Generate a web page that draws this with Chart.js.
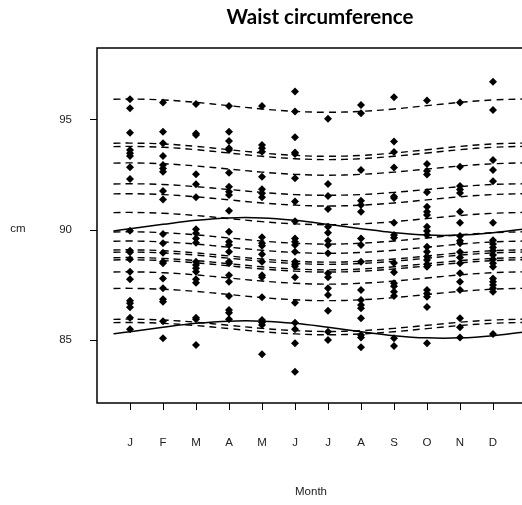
<!DOCTYPE html>
<html>
<head>
<meta charset="utf-8">
<script src="https://cdn.jsdelivr.net/npm/chart.js@4.4.0/dist/chart.umd.min.js"></script>
<style>
  html, body { margin: 0; padding: 0; background: #fff; overflow: hidden; }
  canvas { display: block; }
</style>
</head>
<body>
<canvas id="waistChart" width="540" height="505"></canvas>
<script>
const chartTitle = 'Waist circumference';
const xTitle = 'Month';
const yTitle = 'cm';
const monthLabels = ['J', 'F', 'M', 'A', 'M', 'J', 'J', 'A', 'S', 'O', 'N', 'D'];
const yTicks = [85, 90, 95];

// observed measurements, one list per month
const janVals = [95.94, 95.53, 94.42, 93.64, 93.49, 93.36, 92.85, 92.32, 89.97, 89.06, 88.99, 88.67, 88.10, 87.76, 86.79, 86.67, 86.49, 86.01, 85.49];
const febVals = [95.79, 94.47, 93.94, 93.36, 92.95, 92.80, 92.65, 91.77, 91.39, 89.82, 89.40, 88.97, 88.56, 88.49, 87.80, 87.35, 86.85, 86.74, 85.86, 85.08];
const marVals = [95.73, 94.39, 94.32, 92.53, 92.08, 91.49, 90.03, 89.85, 89.62, 89.42, 88.56, 88.41, 88.26, 88.10, 87.76, 87.60, 86.01, 85.94, 84.77];
const aprVals = [95.64, 94.47, 94.05, 93.71, 93.64, 92.60, 91.97, 91.74, 91.59, 90.88, 89.92, 89.47, 89.32, 89.01, 88.56, 88.49, 87.95, 87.65, 87.00, 86.36, 86.24, 85.94];
const mayVals = [95.64, 93.86, 93.71, 93.56, 92.42, 91.85, 91.67, 91.49, 89.67, 89.40, 89.29, 88.90, 88.56, 87.95, 87.85, 86.95, 85.91, 85.80, 85.68, 84.35];
const junVals = [96.29, 95.38, 94.21, 93.52, 93.45, 92.35, 91.29, 90.40, 89.62, 89.47, 89.32, 89.01, 88.56, 88.45, 88.35, 87.85, 86.70, 85.79, 85.49, 84.85, 83.56];
const julVals = [95.05, 92.09, 91.55, 90.96, 90.15, 89.88, 89.51, 89.32, 88.94, 88.03, 87.85, 87.35, 87.05, 86.33, 85.38, 85.00];
const augVals = [95.68, 95.30, 92.73, 91.33, 91.14, 90.83, 89.62, 89.32, 88.56, 87.27, 86.82, 86.59, 86.44, 85.99, 85.23, 85.12, 84.67];
const sepVals = [96.03, 94.02, 93.54, 92.84, 91.52, 91.45, 90.33, 89.77, 89.65, 88.50, 88.08, 87.58, 87.45, 87.20, 87.00, 85.08, 84.73];
const octVals = [95.88, 93.00, 92.68, 92.52, 91.72, 91.06, 90.83, 90.68, 90.15, 89.95, 89.77, 89.24, 89.01, 88.80, 88.64, 88.45, 88.33, 87.27, 87.12, 86.97, 86.50, 84.85];
const novVals = [95.79, 92.88, 92.00, 91.84, 91.68, 90.83, 90.33, 89.73, 89.51, 89.40, 89.00, 88.75, 88.49, 88.03, 87.65, 87.27, 85.99, 85.58, 85.12];
const decVals = [96.74, 95.45, 93.18, 92.73, 92.22, 90.33, 89.53, 89.36, 89.20, 89.06, 88.86, 88.67, 88.49, 88.33, 87.80, 87.65, 87.50, 87.35, 87.20, 85.27];
const monthValues = [janVals, febVals, marVals, aprVals, mayVals, junVals, julVals, augVals, sepVals, octVals, novVals, decVals];

// fitted curves, read at these month positions
const curveMonths = [0.5, 1, 2, 3, 4, 5, 6, 7, 8, 9, 10, 11, 12, 12.9];
const dashedCurves = [
  [95.94, 95.95, 95.91, 95.80, 95.65, 95.50, 95.39, 95.35, 95.39, 95.50, 95.65, 95.80, 95.91, 95.95],
  [93.94, 93.95, 93.91, 93.80, 93.65, 93.50, 93.39, 93.35, 93.39, 93.50, 93.65, 93.80, 93.91, 93.95],
  [93.79, 93.80, 93.76, 93.65, 93.50, 93.35, 93.24, 93.20, 93.24, 93.35, 93.50, 93.65, 93.76, 93.80],
  [93.04, 93.05, 93.01, 92.91, 92.77, 92.63, 92.53, 92.49, 92.53, 92.63, 92.77, 92.91, 93.01, 93.05],
  [92.09, 92.10, 92.07, 91.97, 91.84, 91.71, 91.61, 91.58, 91.61, 91.71, 91.84, 91.97, 92.07, 92.10],
  [91.64, 91.65, 91.61, 91.51, 91.37, 91.23, 91.13, 91.09, 91.13, 91.23, 91.37, 91.51, 91.61, 91.65],
  [90.79, 90.80, 90.76, 90.66, 90.52, 90.38, 90.28, 90.24, 90.28, 90.38, 90.52, 90.66, 90.76, 90.80],
  [89.91, 89.92, 89.88, 89.78, 89.64, 89.50, 89.40, 89.36, 89.40, 89.50, 89.64, 89.78, 89.88, 89.92],
  [89.49, 89.50, 89.46, 89.36, 89.22, 89.08, 88.98, 88.94, 88.98, 89.08, 89.22, 89.36, 89.46, 89.50],
  [89.09, 89.10, 89.06, 88.96, 88.82, 88.68, 88.58, 88.54, 88.58, 88.68, 88.82, 88.96, 89.06, 89.10],
  [88.99, 89.00, 88.96, 88.86, 88.72, 88.58, 88.48, 88.44, 88.48, 88.58, 88.72, 88.86, 88.96, 89.00],
  [88.74, 88.75, 88.71, 88.61, 88.47, 88.33, 88.23, 88.19, 88.23, 88.33, 88.47, 88.61, 88.71, 88.75],
  [88.64, 88.65, 88.61, 88.51, 88.37, 88.23, 88.13, 88.09, 88.13, 88.23, 88.37, 88.51, 88.61, 88.65],
  [88.09, 88.10, 88.06, 87.96, 87.82, 87.68, 87.58, 87.54, 87.58, 87.68, 87.82, 87.96, 88.06, 88.10],
  [87.34, 87.35, 87.31, 87.21, 87.07, 86.93, 86.83, 86.79, 86.83, 86.93, 87.07, 87.21, 87.31, 87.35],
  [85.94, 85.95, 85.91, 85.81, 85.67, 85.53, 85.43, 85.39, 85.43, 85.53, 85.67, 85.81, 85.91, 85.95],
  [85.79, 85.80, 85.76, 85.66, 85.52, 85.38, 85.28, 85.24, 85.28, 85.38, 85.52, 85.66, 85.76, 85.80]
];
const upperSolid = [89.96, 90.06, 90.26, 90.44, 90.55, 90.55, 90.44, 90.26, 90.06, 89.88, 89.77, 89.77, 89.88, 90.04];
const lowerSolid = [85.29, 85.38, 85.58, 85.76, 85.86, 85.86, 85.76, 85.58, 85.38, 85.20, 85.10, 85.10, 85.20, 85.36];

function curvePoints(values) {
    return values.map((v, i) => ({ x: curveMonths[i], y: v }));
}

const datasets = [];
dashedCurves.forEach(curve => {
    datasets.push({
        type: 'line',
        data: curvePoints(curve),
        borderColor: '#000',
        borderWidth: 1.4,
        borderDash: [7, 5],
        pointRadius: 0,
        tension: 0.4,
        fill: false
    });
});
[upperSolid, lowerSolid].forEach(curve => {
    datasets.push({
        type: 'line',
        data: curvePoints(curve),
        borderColor: '#000',
        borderWidth: 1.5,
        pointRadius: 0,
        tension: 0.4,
        fill: false
    });
});
datasets.push({
    type: 'scatter',
    data: monthValues.flatMap((vals, i) => vals.map(v => ({ x: i + 1, y: v }))),
    pointStyle: 'rectRot',
    pointRadius: 4,
    backgroundColor: '#000',
    borderColor: '#000',
    borderWidth: 0
});

// box around the plot region plus the R-style titles
const frameAndLabels = {
    id: 'frameAndLabels',
    afterDraw(chart) {
        const { ctx, chartArea: a } = chart;
        ctx.save();
        ctx.strokeStyle = '#000';
        ctx.lineWidth = 1.5;
        ctx.strokeRect(a.left, a.top, a.right - a.left, a.bottom - a.top);
        ctx.fillStyle = '#000';
        ctx.textAlign = 'center';
        ctx.textBaseline = 'alphabetic';
        ctx.font = 'bold 20.5px Lato';
        ctx.fillText(chartTitle, 320, 24);
        ctx.fillStyle = '#222';
        ctx.font = '11.5px "Liberation Sans", Arial';
        ctx.fillText(xTitle, 311, 495);
        ctx.fillText(yTitle, 18, 232);
        ctx.restore();
    }
};

const tickFont = { family: '"Liberation Sans", Arial', size: 11.5 };

new Chart(document.getElementById('waistChart'), {
    type: 'scatter',
    data: { datasets: datasets },
    options: {
        responsive: false,
        animation: false,
        layout: { padding: { top: 48, right: 14, left: 0, bottom: 0 } },
        plugins: {
            legend: { display: false },
            tooltip: { enabled: false },
            title: { display: false }
        },
        scales: {
            x: {
                type: 'linear',
                min: 0,
                max: 13,
                afterBuildTicks: scale => {
                    scale.ticks = monthLabels.map((m, i) => ({ value: i + 1 }));
                },
                afterFit: scale => { scale.height = 102; },
                ticks: {
                    callback: (value) => monthLabels[value - 1],
                    color: '#222',
                    font: tickFont,
                    padding: 26,
                    maxRotation: 0,
                    autoSkip: false
                },
                grid: { drawOnChartArea: false, drawTicks: true, tickLength: 7, color: '#000', tickWidth: 1 },
                border: { display: false }
            },
            y: {
                type: 'linear',
                min: 82.14,
                max: 98.27,
                afterBuildTicks: scale => {
                    scale.ticks = yTicks.map(v => ({ value: v }));
                },
                afterFit: scale => { scale.width = 97; },
                ticks: {
                    color: '#222',
                    font: tickFont,
                    padding: 18
                },
                grid: { drawOnChartArea: false, drawTicks: true, tickLength: 7, color: '#000', tickWidth: 1 },
                border: { display: false }
            }
        }
    },
    plugins: [frameAndLabels]
});
</script>
</body>
</html>
